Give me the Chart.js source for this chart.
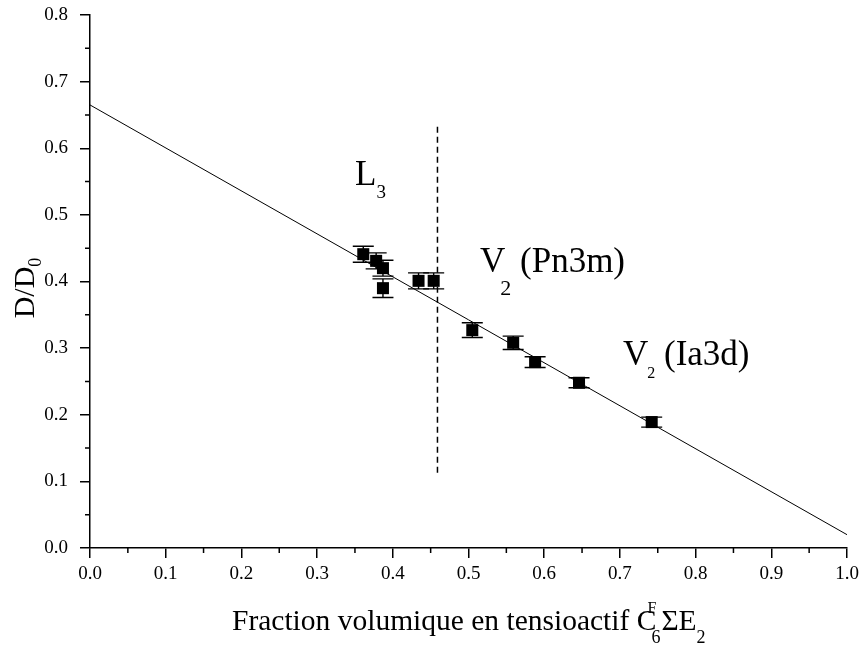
<!DOCTYPE html>
<html>
<head>
<meta charset="utf-8">
<script src="https://cdn.jsdelivr.net/npm/chart.js@4.4.1/dist/chart.umd.min.js"></script>
<style>
  html, body { margin: 0; padding: 0; background: #fff; }
</style>
</head>
<body>
<canvas id="chart" width="863" height="647"></canvas>
<script>
// measured points: volume fraction vs D/D0, with error bars
const phi      = [0.361, 0.378, 0.387, 0.387, 0.434, 0.454, 0.505, 0.559, 0.588, 0.646, 0.742];
const ratio    = [0.441, 0.431, 0.420, 0.390, 0.401, 0.401, 0.327, 0.308, 0.279, 0.248, 0.189];
const ratioErr = [0.012, 0.012, 0.012, 0.014, 0.012, 0.012, 0.011, 0.010, 0.008, 0.0075, 0.0075];

// linear fit and L3 / V2 boundary
const fitX = [0, 1];
const fitY = [0.665, 0.02];
const boundaryX = [0.459, 0.459];
const boundaryY = [0.113, 0.638];

const xTicks = [0, 0.1, 0.2, 0.3, 0.4, 0.5, 0.6, 0.7, 0.8, 0.9, 1.0];
const yTicks = [0, 0.1, 0.2, 0.3, 0.4, 0.5, 0.6, 0.7, 0.8];

const serif = "'Liberation Serif', 'Times New Roman', serif";

function pts(xs, ys) {
  return xs.map((v, i) => ({ x: v, y: ys[i] }));
}

// draws a run of text pieces, each with its own size and vertical offset
function drawRich(ctx, x, y, parts) {
  parts.forEach(p => {
    ctx.font = p.size + 'px ' + serif;
    const w = ctx.measureText(p.t).width;
    ctx.fillText(p.t, x + (p.dx || 0), y + (p.dy || 0));
    if (!p.noAdvance) x += w + (p.dx || 0);
  });
  return x;
}

const errorBars = {
  id: 'errorBars',
  afterDatasetsDraw(chart) {
    const { ctx, scales: { x, y } } = chart;
    ctx.save();
    ctx.strokeStyle = '#000';
    ctx.lineWidth = 1.4;
    phi.forEach((p, i) => {
      const px = x.getPixelForValue(p);
      const top = y.getPixelForValue(ratio[i] + ratioErr[i]);
      const bot = y.getPixelForValue(ratio[i] - ratioErr[i]);
      ctx.beginPath();
      ctx.moveTo(px, top); ctx.lineTo(px, bot);
      ctx.moveTo(px - 10.5, top); ctx.lineTo(px + 10.5, top);
      ctx.moveTo(px - 10.5, bot); ctx.lineTo(px + 10.5, bot);
      ctx.stroke();
    });
    ctx.restore();
  }
};

const minorTicks = {
  id: 'minorTicks',
  afterDraw(chart) {
    const { ctx, scales: { x, y } } = chart;
    ctx.save();
    ctx.strokeStyle = '#000';
    ctx.lineWidth = 1.5;
    ctx.beginPath();
    for (let i = 0; i < xTicks.length - 1; i++) {
      const px = x.getPixelForValue((xTicks[i] + xTicks[i + 1]) / 2);
      ctx.moveTo(px, y.bottom); ctx.lineTo(px, y.bottom + 5);
    }
    for (let i = 0; i < yTicks.length - 1; i++) {
      const py = y.getPixelForValue((yTicks[i] + yTicks[i + 1]) / 2);
      ctx.moveTo(x.left, py); ctx.lineTo(x.left - 5, py);
    }
    ctx.stroke();
    ctx.restore();
  }
};

const labels = {
  id: 'labels',
  afterDraw(chart) {
    const { ctx } = chart;
    ctx.save();
    ctx.fillStyle = '#000';
    ctx.textBaseline = 'alphabetic';
    ctx.textAlign = 'left';

    // phase names
    drawRich(ctx, 355, 185, [{ t: 'L', size: 35 }, { t: '3', size: 19, dy: 13 }]);
    drawRich(ctx, 480, 272, [{ t: 'V', size: 35 }, { t: '2', size: 22, dy: 23, dx: -5 }, { t: ' (Pn3m)', size: 35 }]);
    drawRich(ctx, 623, 365, [{ t: 'V', size: 35 }, { t: '2', size: 16, dy: 13, dx: -1 }, { t: ' (Ia3d)', size: 35 }]);

    // x axis title
    let cx = drawRich(ctx, 232, 630, [{ t: 'Fraction volumique en tensioactif C', size: 29.5 }]);
    drawRich(ctx, cx - 9, 630, [{ t: 'F', size: 16, dy: -17, noAdvance: true }]);
    cx = drawRich(ctx, cx - 5, 630, [{ t: '6', size: 18, dy: 13 }]);
    cx = drawRich(ctx, cx + 1, 630, [{ t: 'ΣE', size: 29.5 }]);
    drawRich(ctx, cx, 630, [{ t: '2', size: 18, dy: 13 }]);

    // y axis title, rotated
    ctx.translate(34, 288);
    ctx.rotate(-Math.PI / 2);
    ctx.font = '30px ' + serif;
    const w = ctx.measureText('D/D').width;
    ctx.font = '18px ' + serif;
    const w0 = ctx.measureText('0').width;
    drawRich(ctx, -(w + w0) / 2, 0, [{ t: 'D/D', size: 30 }, { t: '0', size: 18, dy: 7 }]);
    ctx.restore();
  }
};

new Chart(document.getElementById('chart'), {
  type: 'scatter',
  data: {
    datasets: [
      {
        label: 'D/D0',
        data: pts(phi, ratio),
        pointStyle: 'rect',
        pointRadius: 8.5,
        backgroundColor: '#000',
        borderColor: '#000',
        borderWidth: 0
      },
      {
        label: 'fit',
        data: pts(fitX, fitY),
        showLine: true,
        borderColor: '#000',
        borderWidth: 1,
        pointRadius: 0
      },
      {
        label: 'boundary',
        data: pts(boundaryX, boundaryY),
        showLine: true,
        borderColor: '#000',
        borderWidth: 1.5,
        borderDash: [6, 4],
        pointRadius: 0
      }
    ]
  },
  options: {
    responsive: false,
    animation: false,
    layout: { padding: { top: 15, right: 16, left: 0, bottom: 0 } },
    plugins: { legend: { display: false }, tooltip: { enabled: false } },
    scales: {
      x: {
        type: 'linear',
        min: 0,
        max: 1,
        afterBuildTicks: s => { s.ticks = xTicks.map(v => ({ value: v })); },
        afterFit: s => { s.height = 99; s.paddingLeft = 0; s.paddingRight = 0; },
        ticks: {
          callback: v => v.toFixed(1),
          font: { family: serif, size: 19 },
          color: '#000',
          padding: 5,
          maxRotation: 0
        },
        grid: { drawOnChartArea: false, color: '#000', lineWidth: 1.5, tickLength: 10 },
        border: { color: '#000', width: 1.5 }
      },
      y: {
        type: 'linear',
        min: 0,
        max: 0.8,
        afterBuildTicks: s => { s.ticks = yTicks.map(v => ({ value: v })); },
        afterFit: s => { s.width = 90; s.paddingTop = 0; s.paddingBottom = 0; },
        ticks: {
          callback: v => v.toFixed(1),
          font: { family: serif, size: 19 },
          color: '#000',
          padding: 12
        },
        grid: { drawOnChartArea: false, color: '#000', lineWidth: 1.5, tickLength: 10 },
        border: { color: '#000', width: 1.5 }
      }
    }
  },
  plugins: [errorBars, minorTicks, labels]
});
</script>
</body>
</html>
